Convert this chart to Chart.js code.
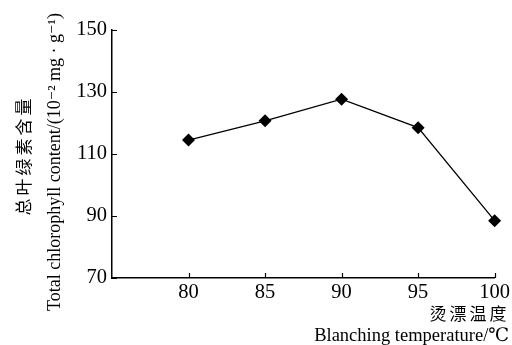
<!DOCTYPE html>
<html>
<head>
<meta charset="utf-8">
<script src="https://cdn.jsdelivr.net/npm/chart.js"></script>
<style>
  html, body { margin: 0; padding: 0; background: #fff; }
  #wrap { width: 512px; height: 345px; position: relative; }
</style>
</head>
<body>
<div id="wrap"><canvas id="chart"></canvas></div>
<script>
// blanching temperature (°C) vs total chlorophyll content
const temps = [80, 85, 90, 95, 100];
const chlorophyll = [114.5, 120.7, 127.7, 118.5, 88.5];
const xTicks = [80, 85, 90, 95, 100];
const yTicks = [70, 90, 110, 130, 150];
const yTitleCn = '总叶绿素含量';
const yTitleEn = 'Total chlorophyll content/(10⁻² mg · g⁻¹)';
const xTitleCn = '烫漂温度';
const xTitleEn = 'Blanching temperature/℃';

const serif = '"Liberation Serif", "DejaVu Serif", serif';
const cjk = '"Noto Sans CJK SC", sans-serif';

// spaced-out CJK text, drawn char by char
function drawSpaced(ctx, text, x, y, step) {
  for (let i = 0; i < text.length; i++) {
    ctx.fillText(text[i], x + i * step, y);
  }
}

const extras = {
  id: 'extras',
  afterDraw(chart) {
    const ctx = chart.ctx;
    const xs = chart.scales.x, ys = chart.scales.y;
    const area = chart.chartArea;
    ctx.save();
    // inward tick marks
    ctx.strokeStyle = '#000';
    ctx.lineWidth = 1.2;
    ctx.beginPath();
    xs.ticks.forEach(t => {
      const px = Math.round(xs.getPixelForValue(t.value)) + 0.5;
      ctx.moveTo(px, area.bottom);
      ctx.lineTo(px, area.bottom - 5);
    });
    ys.ticks.forEach(t => {
      const py = Math.round(ys.getPixelForValue(t.value)) + 0.5;
      ctx.moveTo(area.left, py);
      ctx.lineTo(area.left + 5, py);
    });
    ctx.stroke();

    ctx.fillStyle = '#000';
    ctx.textBaseline = 'middle';
    // y title (rotated)
    ctx.save();
    ctx.translate(24, 157);
    ctx.rotate(-Math.PI / 2);
    ctx.font = '17px ' + cjk;
    ctx.textAlign = 'center';
    drawSpaced(ctx, yTitleCn, -50, 0, 20);
    ctx.restore();

    ctx.save();
    ctx.translate(55, 162);
    ctx.rotate(-Math.PI / 2);
    ctx.font = '18px ' + serif;
    ctx.textAlign = 'center';
    ctx.fillText(yTitleEn, 0, 0);
    ctx.restore();

    // x title
    ctx.font = '17px ' + cjk;
    ctx.textAlign = 'center';
    drawSpaced(ctx, xTitleCn, 438, 314, 20);
    ctx.font = '18.5px ' + serif;
    ctx.textAlign = 'right';
    ctx.fillText(xTitleEn, 509, 336);
    ctx.restore();
  }
};

new Chart(document.getElementById('chart'), {
  type: 'line',
  data: {
    datasets: [{
      data: temps.map((t, i) => ({ x: t, y: chlorophyll[i] })),
      borderColor: '#000',
      borderWidth: 1.3,
      backgroundColor: '#000',
      pointStyle: 'rectRot',
      pointRadius: 6.5,
      pointBorderWidth: 0,
      tension: 0,
      fill: false,
      clip: false
    }]
  },
  options: {
    responsive: true,
    maintainAspectRatio: false,
    animation: false,
    layout: { padding: { top: 30, right: 15, left: 0, bottom: 0 } },
    plugins: { legend: { display: false }, tooltip: { enabled: false } },
    scales: {
      x: {
        type: 'linear',
        min: 75,
        max: 100,
        afterBuildTicks: s => { s.ticks = xTicks.map(v => ({ value: v })); },
        afterFit: s => { s.height = 67; },
        grid: { drawOnChartArea: false, drawTicks: false },
        border: { color: '#000', width: 1.5 },
        ticks: { color: '#000', padding: 2, font: { family: serif, size: 20.5 } }
      },
      y: {
        min: 70,
        max: 150,
        afterBuildTicks: s => { s.ticks = yTicks.map(v => ({ value: v })); },
        afterFit: s => { s.width = 112; },
        grid: { drawOnChartArea: false, drawTicks: false },
        border: { color: '#000', width: 1.5 },
        ticks: { color: '#000', padding: 5, font: { family: serif, size: 20.5 } }
      }
    }
  },
  plugins: [extras]
});
</script>
</body>
</html>
